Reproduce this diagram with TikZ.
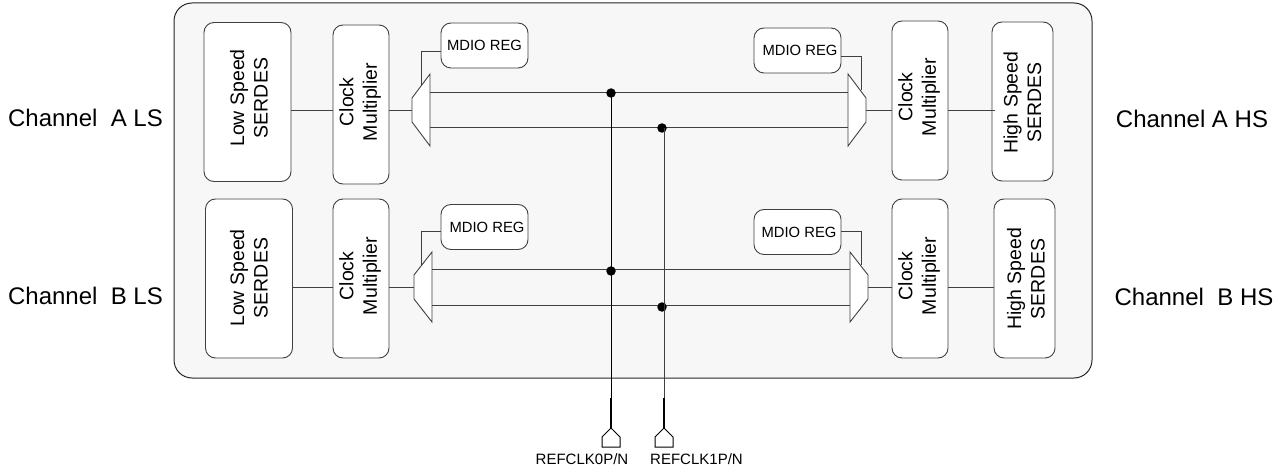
\documentclass[tikz,border=0pt]{standalone}
\usepackage{fontspec}
\setmainfont{Liberation Sans}
\usetikzlibrary{arrows.meta}
\definecolor{panel}{HTML}{F7F7F7}
\definecolor{wire}{HTML}{404040}
\tikzset{
  blockbox/.style={draw=wire,line width=0.9pt,fill=white,rounded corners=10pt,rotate=90,inner sep=0pt,minimum width=159pt},
  blocktext/.style={rotate=90,align=center,inner sep=0pt,font=\fontsize{19.5}{23.5}\selectfont},
  regbox/.style={draw=wire,line width=0.9pt,fill=white,rounded corners=10pt,inner sep=0pt,minimum width=87pt,minimum height=45pt,
    font=\fontsize{14.8}{17}\selectfont},
  chanlabel/.style={font=\fontsize{24}{28}\selectfont,inner sep=0pt},
  pinlabel/.style={font=\fontsize{15}{18}\selectfont,inner sep=0pt},
  junction/.style={circle,fill=black,inner sep=0pt,minimum size=9.5pt},
  wireline/.style={draw=wire,line width=0.9pt},
  clkline/.style={draw=black,line width=0.9pt},
}
\begin{document}
\begin{tikzpicture}[x=1pt,y=1pt]
  \useasboundingbox (0,0) rectangle (1287,-470);
  \node[draw=black!85,line width=1pt,fill=panel,rounded corners=18pt,minimum width=918pt,minimum height=375pt,inner sep=0pt] (chip) at (633,-190.5) {};

  % channel A
  \node[blockbox,minimum height=87pt] (ls_a) at (247.5,-102) {};
  \node[blocktext] (ls_a_text) at (249,-98) {Low Speed\\SERDES};
  \node[blockbox,minimum height=56pt] (clk_al) at (361,-104.5) {};
  \node[blocktext] (clk_al_text) at (360,-102) {Clock\\Multiplier};
  \node[blockbox,minimum height=56pt] (clk_ar) at (920,-100.5) {};
  \node[blocktext] (clk_ar_text) at (919,-97) {Clock\\Multiplier};
  \node[blockbox,minimum height=61pt] (hs_a) at (1022.5,-101.5) {};
  \node[blocktext] (hs_a_text) at (1022.5,-102.5) {High Speed\\SERDES};
  \node[regbox] (reg_al) at (484.5,-45.5) {MDIO REG};
  \node[regbox] (reg_ar) at (797.5,-50.5) {\hspace*{5pt}\raisebox{-2.5pt}{MDIO REG}};

  % channel B
  \node[blockbox,minimum height=87pt] (ls_b) at (249,-278.5) {};
  \node[blocktext] (ls_b_text) at (249,-278) {Low Speed\\SERDES};
  \node[blockbox,minimum height=56pt] (clk_bl) at (361,-278.5) {};
  \node[blocktext] (clk_bl_text) at (360,-276) {Clock\\Multiplier};
  \node[blockbox,minimum height=56pt] (clk_br) at (920,-278.5) {};
  \node[blocktext] (clk_br_text) at (919,-276) {Clock\\Multiplier};
  \node[blockbox,minimum height=61pt] (hs_b) at (1024.5,-278.5) {};
  \node[blocktext] (hs_b_text) at (1026,-279) {High Speed\\SERDES};
  \node[regbox] (reg_bl) at (484.5,-227) {\hspace*{5pt}MDIO REG};
  \node[regbox] (reg_br) at (797.5,-232) {\hspace*{3pt}MDIO REG};

  % muxes
  \draw[wireline,fill=white] (430,-74) -- (430,-146) -- (412,-122) -- (412,-98) -- cycle;
  \draw[wireline,fill=white] (848,-74) -- (848,-146) -- (866,-122) -- (866,-98) -- cycle;
  \draw[wireline,fill=white] (432,-252) -- (432,-322) -- (414,-299) -- (414,-275) -- cycle;
  \draw[wireline,fill=white] (850,-252) -- (850,-322) -- (868,-299) -- (868,-275) -- cycle;
  \coordinate (mux_al) at (412,-110);
  \coordinate (mux_ar) at (866,-110);
  \coordinate (mux_bl) at (414,-287);
  \coordinate (mux_br) at (868,-287);
  \coordinate (sel_al) at (421,-85);
  \coordinate (sel_ar) at (861,-90);
  \coordinate (sel_bl) at (421,-265);
  \coordinate (sel_br) at (861,-265);

  % data path
  \draw[wireline] (ls_a.south |- mux_al) -- (clk_al.north |- mux_al);
  \draw[wireline] (clk_al.south |- mux_al) -- (mux_al);
  \draw[wireline] (mux_ar) -- (clk_ar.north |- mux_ar);
  \draw[wireline] (clk_ar.south |- mux_ar) -- ++(47,0);
  \draw[wireline] (ls_b.south |- mux_bl) -- (clk_bl.north |- mux_bl);
  \draw[wireline] (clk_bl.south |- mux_bl) -- (mux_bl);
  \draw[wireline] (mux_br) -- (clk_br.north |- mux_br);
  \draw[wireline] (clk_br.south |- mux_br) -- (hs_b.north |- mux_br);
  \draw[wireline] (reg_al.west |- 0,-51) -| (sel_al);
  \draw[wireline] (reg_ar.east |- 0,-56) -| (sel_ar);
  \draw[wireline] (reg_bl.west |- 0,-231) -| (sel_bl);
  \draw[wireline] (reg_br.east |- 0,-231) -| (sel_br);

  % clock buses
  \coordinate (bus0_al) at (430,-92);
  \coordinate (bus0_ar) at (848,-92);
  \coordinate (bus1_al) at (430,-127);
  \coordinate (bus1_ar) at (848,-127);
  \coordinate (bus0_bl) at (432,-269);
  \coordinate (bus0_br) at (850,-269);
  \coordinate (bus1_bl) at (432,-305);
  \coordinate (bus1_br) at (850,-305);
  \draw[wireline] (bus0_al) -- (bus0_ar);
  \draw[wireline] (bus1_al) -- (bus1_ar);
  \draw[wireline] (bus0_bl) -- (bus0_br);
  \draw[wireline] (bus1_bl) -- (bus1_br);
  \node[junction] (dot0_a) at (611,-93) {};
  \node[junction] (dot1_a) at (662,-128) {};
  \node[junction] (dot0_b) at (611,-271) {};
  \node[junction] (dot1_b) at (662,-307) {};

  % refclk pins
  \coordinate (pin0) at (611,-428);
  \coordinate (pin1) at (664,-428);
  \coordinate (thick0) at (611,-398);
  \coordinate (thick1) at (664,-398);
  \draw[clkline] (dot0_a.center) -- (thick0);
  \draw[wireline] (dot1_a.center -| pin1) -- (thick1);
  \draw[line width=2pt] (thick0) -- (pin0);
  \draw[line width=2pt] (thick1) -- (pin1);
  \draw[draw=black,line width=1pt] (pin0) -- ++(-9,-9) -- ++(0,-10) -- ++(18,0) -- ++(0,10) -- cycle;
  \draw[draw=black,line width=1pt] (pin1) -- ++(-9,-9) -- ++(0,-10) -- ++(18,0) -- ++(0,10) -- cycle;

  % labels
  \node[pinlabel] (ref0) at (582,-459) {REFCLK0P/N};
  \node[pinlabel] (ref1) at (696.5,-459) {REFCLK1P/N};
  \node[chanlabel] (ch_al) at (85.5,-118) {Channel\ \ A LS};
  \node[chanlabel] (ch_bl) at (85.5,-296) {Channel\ \ B LS};
  \node[chanlabel] (ch_ar) at (1192,-119) {Channel A HS};
  \node[chanlabel] (ch_br) at (1194,-297) {Channel\ \ B HS};
\end{tikzpicture}
\end{document}
